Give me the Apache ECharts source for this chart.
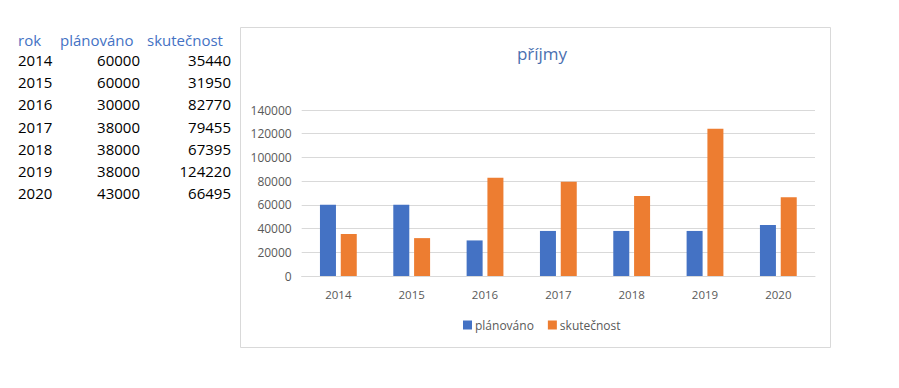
<!DOCTYPE html>
<html><head><meta charset="utf-8">
<script src="https://cdn.jsdelivr.net/npm/echarts@6/dist/echarts.min.js"></script>
<style>html,body{margin:0;padding:0;background:#fff}#c{width:899px;height:388px}</style>
</head><body><div id="c"></div>
<script>
const headers = ['rok', 'plánováno', 'skutečnost'];
const years = ['2014', '2015', '2016', '2017', '2018', '2019', '2020'];
const planned = [60000, 60000, 30000, 38000, 38000, 38000, 43000];
const actual = [35440, 31950, 82770, 79455, 67395, 124220, 66495];
const yTicks = [0, 20000, 40000, 60000, 80000, 100000, 120000, 140000];
const title = 'příjmy';

const FONT = '"Open Sans", "Noto Sans", sans-serif';
const chart = echarts.init(document.getElementById('c'), null, {renderer: 'svg'});

const graphics = [];
graphics.push({type: 'rect', shape: {x: 240.5, y: 27.5, width: 590, height: 320},
  style: {fill: 'none', stroke: '#d9d9d9', lineWidth: 1}, z: -1});
const headerX = [18, 60, 147];
headers.forEach((h, i) => {
  graphics.push({type: 'text', x: headerX[i], y: 40,
    style: {text: h, fill: '#4472C4', font: '15px ' + FONT, textAlign: 'left', textVerticalAlign: 'middle'}});
});
const rowY0 = 60, rowStep = 22.2;
years.forEach((y, r) => {
  const yy = rowY0 + r * rowStep;
  graphics.push({type: 'text', x: 18, y: yy,
    style: {text: y, fill: '#000', font: '15px ' + FONT, textAlign: 'left', textVerticalAlign: 'middle'}});
  graphics.push({type: 'text', x: 140, y: yy,
    style: {text: String(planned[r]), fill: '#000', font: '15px ' + FONT, textAlign: 'right', textVerticalAlign: 'middle'}});
  graphics.push({type: 'text', x: 231, y: yy,
    style: {text: String(actual[r]), fill: '#000', font: '15px ' + FONT, textAlign: 'right', textVerticalAlign: 'middle'}});
});

chart.setOption({
  animation: false,
  textStyle: {fontFamily: FONT},
  title: {text: title, left: 537, top: 40, textAlign: 'center',
    textStyle: {color: '#4a6fb0', fontSize: 17, fontWeight: 'normal', fontFamily: FONT}},
  legend: {data: ['plánováno', 'skutečnost'], left: 458, top: 314,
    itemWidth: 9, itemHeight: 9, itemGap: 14, icon: 'rect',
    textStyle: {color: '#595959', fontSize: 12, fontFamily: FONT, padding: [0, 0, 0, -2]}},
  grid: {left: 301.7, right: 84, top: 110, bottom: 112, containLabel: false},
  xAxis: {type: 'category', data: years,
    axisLine: {lineStyle: {color: '#d9d9d9'}}, axisTick: {show: false},
    axisLabel: {color: '#595959', fontSize: 11.5, margin: 12, fontFamily: FONT}},
  yAxis: {type: 'value', min: yTicks[0], max: yTicks[yTicks.length - 1], interval: yTicks[1] - yTicks[0],
    axisLine: {show: false}, axisTick: {show: false},
    axisLabel: {color: '#595959', fontSize: 12, margin: 10, fontFamily: FONT, formatter: v => String(v)},
    splitLine: {lineStyle: {color: '#d9d9d9'}}},
  series: [
    {name: 'plánováno', type: 'bar', data: planned, barWidth: 16, barGap: '30%',
      itemStyle: {color: '#4472C4'}},
    {name: 'skutečnost', type: 'bar', data: actual, barWidth: 16,
      itemStyle: {color: '#ED7D31'}}
  ],
  graphic: graphics
});
</script></body></html>
